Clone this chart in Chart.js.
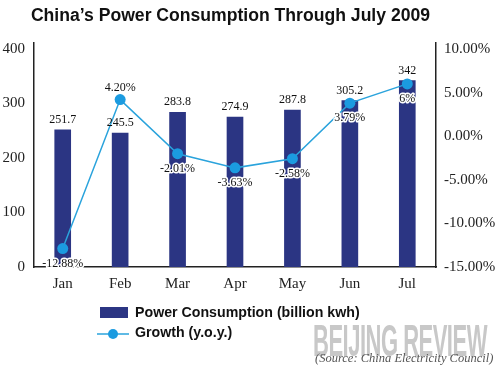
<!DOCTYPE html>
<html>
<head>
<meta charset="utf-8">
<script src="https://cdn.jsdelivr.net/npm/chart.js@4"></script>
<style>
  html, body { margin: 0; padding: 0; background: #fff; }
  #wrap { position: relative; width: 500px; height: 372px; overflow: hidden; }
  #title { position: absolute; left: 0; width: 461px; top: 5px; text-align: center;
    font: bold 17.6px "Liberation Sans", Arial, sans-serif; color: #111; white-space: nowrap; }
  .leg { position: absolute; left: 135px; font: bold 14.2px "Liberation Sans", Arial, sans-serif; color: #111; white-space: nowrap; }
  #mark { position: absolute; left: 313px; top: 316px; font: bold 44px "Liberation Sans Narrow", "Liberation Sans", sans-serif;
    color: #c8c8c8; transform-origin: 0 0; transform: scaleX(0.5); letter-spacing: -1px; white-space: nowrap; }
  #src { position: absolute; left: 315px; top: 351px; font: italic 12.5px "Liberation Serif", "Times New Roman", serif; color: #555; white-space: nowrap; }
</style>
</head>
<body>
<div id="wrap">
  <canvas id="chart" width="500" height="372"></canvas>
  <div id="title">China’s Power Consumption Through July 2009</div>
  <div id="mark">BEIJING REVIEW</div>
  <div id="src">(Source: China Electricity Council)</div>
  <div class="leg" style="top:304px">Power Consumption (billion kwh)</div>
  <div class="leg" style="top:324px">Growth (y.o.y.)</div>
</div>
<script>
var months = ['Jan', 'Feb', 'Mar', 'Apr', 'May', 'Jun', 'Jul'];
var consumption = [251.7, 245.5, 283.8, 274.9, 287.8, 305.2, 342];
var growth = [-12.88, 4.20, -2.01, -3.63, -2.58, 3.79, 6];
var growthLabels = ['-12.88%', '4.20%', '-2.01%', '-3.63%', '-2.58%', '3.79%', '6%'];

var navy = '#2b3583';
var blue = '#2aa3dc';
var serif = '"Liberation Serif", "Times New Roman", serif';

// value labels + hand-made legend marks
var labelPlugin = {
  id: 'labels',
  afterDatasetsDraw: function(chart) {
    var c = chart.ctx;
    c.save();
    c.font = '12px ' + serif;
    c.textAlign = 'center';
    c.textBaseline = 'middle';
    c.fillStyle = '#111';
    chart.getDatasetMeta(1).data.forEach(function(bar, i) {
      c.fillText(String(consumption[i]), bar.x, bar.y - 10);
    });
    chart.getDatasetMeta(0).data.forEach(function(pt, i) {
      var y = growth[i] > 4 && growth[i] < 5 ? pt.y - 12 : pt.y + 15;
      c.lineWidth = 3;
      c.strokeStyle = '#fff';
      c.lineJoin = 'round';
      c.strokeText(growthLabels[i], pt.x, y);
      c.fillText(growthLabels[i], pt.x, y);
    });
    // legend marks
    c.fillStyle = navy;
    c.fillRect(100, 307, 28, 11);
    c.strokeStyle = blue;
    c.lineWidth = 1.5;
    c.beginPath();
    c.moveTo(97, 334);
    c.lineTo(129, 334);
    c.stroke();
    c.fillStyle = '#1b9be0';
    c.beginPath();
    c.arc(113, 334, 5, 0, Math.PI * 2);
    c.fill();
    c.restore();
  }
};

var ctx = document.getElementById('chart').getContext('2d');
var myChart = new Chart(ctx, {
  type: 'bar',
  data: {
    labels: months,
    datasets: [
      {
        type: 'line',
        label: 'Growth (y.o.y.)',
        data: growth,
        yAxisID: 'y1',
        borderColor: blue,
        borderWidth: 1.5,
        pointRadius: 5.5,
        pointBackgroundColor: '#1b9be0',
        pointBorderWidth: 0,
        tension: 0,
        order: 1
      },
      {
        label: 'Power Consumption (billion kwh)',
        data: consumption,
        yAxisID: 'y',
        backgroundColor: navy,
        barThickness: 16,
        order: 2
      }
    ]
  },
  options: {
    responsive: false,
    animation: false,
    layout: { padding: { top: 43, bottom: 75, left: 0, right: 0 } },
    plugins: {
      legend: { display: false },
      tooltip: { enabled: false },
      title: { display: false }
    },
    scales: {
      x: {
        offset: true,
        grid: { display: false, drawTicks: false, tickLength: 0 },
        border: { display: true, color: '#222', width: 1.5 },
        ticks: { font: { family: serif, size: 15 }, color: '#222', padding: 8 },
        afterFit: function(s) { s.height = 30; }
      },
      y: {
        position: 'left',
        min: 0,
        max: 411,
        grid: { display: false, drawTicks: false, tickLength: 0 },
        border: { display: true, color: '#222', width: 1.5 },
        ticks: {
          stepSize: 100,
          includeBounds: false,
          autoSkip: false,
          padding: 9,
          font: { family: serif, size: 15 },
          color: '#222'
        },
        afterFit: function(s) { s.width = 34; }
      },
      y1: {
        position: 'right',
        min: -15,
        max: 10.69,
        grid: { display: false, drawTicks: false, tickLength: 0 },
        border: { display: true, color: '#222', width: 1.5 },
        ticks: {
          stepSize: 5,
          includeBounds: false,
          autoSkip: false,
          padding: 8,
          font: { family: serif, size: 15 },
          color: '#222',
          callback: function(v) { return v.toFixed(2) + '%'; }
        },
        afterFit: function(s) { s.width = 64; }
      }
    }
  },
  plugins: [labelPlugin]
});
</script>
</body>
</html>
